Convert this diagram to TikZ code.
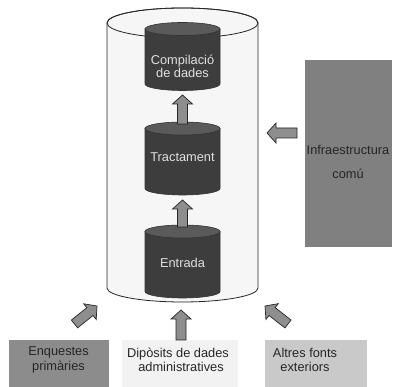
\documentclass[tikz,border=0pt]{standalone}
\usepackage{fontspec}
\setmainfont{Liberation Sans}
\usetikzlibrary{calc}
\definecolor{cylbody}{HTML}{3D3D3D}
\definecolor{cyltop}{HTML}{5A5A5A}
\definecolor{bigfill}{HTML}{F6F6F6}
\definecolor{arrfill}{HTML}{8E8E8E}
\definecolor{boxA}{HTML}{8C8C8C}
\definecolor{boxB}{HTML}{F2F2F2}
\definecolor{boxC}{HTML}{C9C9C9}
\definecolor{boxD}{HTML}{808080}
\tikzset{
  celltext/.style={text=white!88!black, align=center, font=\fontsize{12.8}{13}\selectfont, inner sep=0pt},
  boxtext/.style={text=black!85, align=center, font=\fontsize{12.8}{14.5}\selectfont, inner sep=0pt},
  barrow/.style={draw=black!85, fill=arrfill, line width=0.7pt, line join=miter},
  cyledge/.style={draw=black!80, line width=0.6pt},
}
\newcommand\innercyl[3]{% cx, ytop, ybot
  \filldraw[cyledge, fill=cylbody] ({#1-37.5},#2) -- ({#1-37.5},#3)
     arc[start angle=180, end angle=360, x radius=37.5, y radius=6.5] -- ({#1+37.5},#2) -- cycle;
  \filldraw[cyledge, fill=cyltop] (#1,#2) ellipse[x radius=37.5, y radius=6.5];
}
\newcommand\blockarrow[2]{% tail, tip
  \path ($(#2)!9pt!(#1)$) coordinate (ha);
  \draw[barrow] ($(#1)!5pt!-90:(#2)$) -- ($(ha)!5pt!90:(#1)$) -- ($(ha)!10pt!90:(#1)$) -- (#2)
     -- ($(ha)!10pt!-90:(#1)$) -- ($(ha)!5pt!-90:(#1)$) -- ($(#1)!5pt!90:(#2)$) -- cycle;
}
\begin{document}
\begin{tikzpicture}[x=1pt, y=1pt]
  \useasboundingbox (0,0) rectangle (396,387);
  \fill[white] (0,0) rectangle (396,387);

  % big cylinder
  \filldraw[draw=black!85, fill=bigfill, line width=0.8pt] (107,364) -- (107,99)
     arc[start angle=180, end angle=360, x radius=75.5, y radius=14] -- (258,364)
     arc[start angle=0, end angle=180, x radius=75.5, y radius=15] -- cycle;
  \draw[black!85, line width=0.8pt] (182.5,364) ellipse[x radius=75.5, y radius=15];

  % inner cylinders
  \innercyl{182.5}{358}{303}
  \innercyl{182.5}{258.5}{198.5}
  \innercyl{182.5}{155.5}{95.5}

  \node[celltext] (compil) at (182.5,320.5) {Compilació\\de dades};
  \node[celltext] (tract) at (182.5,230) {Tractament};
  \node[celltext] (entr) at (182.5,124) {Entrada};

  % side and bottom boxes
  \fill[boxD] (305,140) rectangle (392,327);
  \node[boxtext, font=\fontsize{12.8}{24}\selectfont] (infra) at (348,225) {Infraestructura\\comú};

  \fill[boxA] (9,0) rectangle (109,47);
  \node[boxtext] (enq) at (58.5,27) {Enquestes\\primàries};
  \fill[boxB] (122,0) rectangle (238,47);
  \node[boxtext] (dip) at (178,27) {Dipòsits de dades\\\hspace*{6pt}administratives};
  \fill[boxC] (265,0) rectangle (367,47);
  \node[boxtext] (alt) at (305,27) {Altres fonts\\exteriors};

  % arrow end points
  \coordinate (a1t) at (182.5,263);  \coordinate (a1h) at (182.5,292);
  \coordinate (a2t) at (182.5,160);  \coordinate (a2h) at (182.5,187);
  \coordinate (a3t) at (297,254);    \coordinate (a3h) at (267,254);
  \coordinate (a4t) at (181,47);     \coordinate (a4h) at (181,77);
  \coordinate (a5t) at (74.5,63);    \coordinate (a5h) at (97,81);
  \coordinate (a6t) at (288,63);     \coordinate (a6h) at (265,81);

  \blockarrow{a1t}{a1h}
  \blockarrow{a2t}{a2h}
  \blockarrow{a3t}{a3h}
  \blockarrow{a4t}{a4h}
  \blockarrow{a5t}{a5h}
  \blockarrow{a6t}{a6h}
\end{tikzpicture}
\end{document}
